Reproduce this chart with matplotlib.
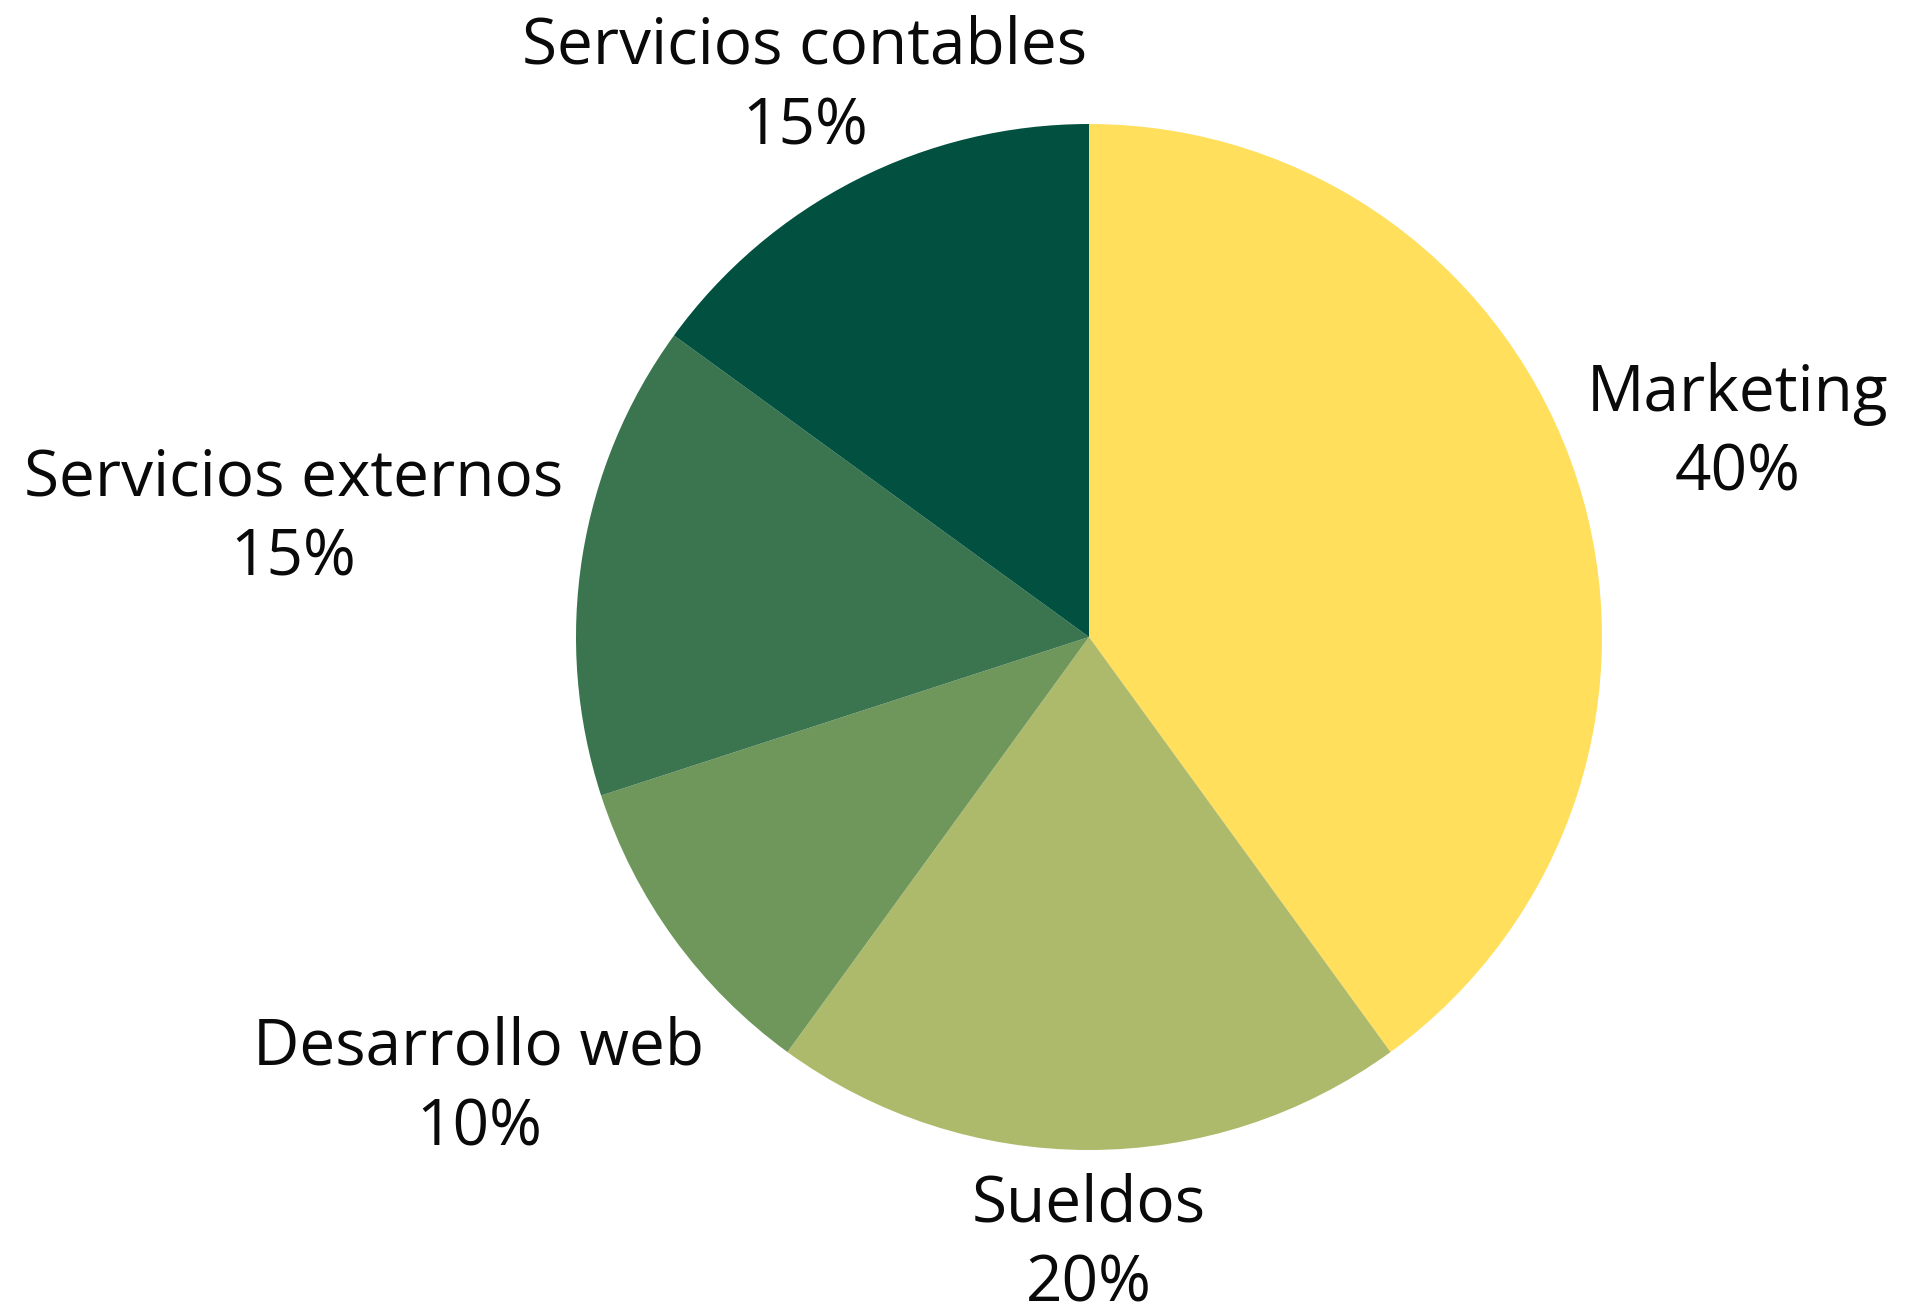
import numpy as np
import matplotlib.pyplot as plt

# expense shares
categories = ['Marketing', 'Sueldos', 'Desarrollo web', 'Servicios externos', 'Servicios contables']
shares = [40, 20, 10, 15, 15]
colors = ['#FFDF5B', '#ADBA6B', '#6F975C', '#3A754F', '#02503F']

# how far out each label sits (in pie radii), wider labels sit further out
label_dist = [1.33, 1.17, 1.47, 1.57, 1.22]

plt.rcParams['font.family'] = ['Open Sans', 'DejaVu Sans']

fig = plt.figure(figsize=(19.28, 13.13), dpi=100)
r_px = 513
cx, cy = 1089 / 1928, (1313 - 637) / 1313
ax = fig.add_axes([cx - r_px / 1928, cy - r_px / 1313, 2 * r_px / 1928, 2 * r_px / 1313])

wedges, _ = ax.pie(shares, colors=colors, startangle=90, counterclock=False,
                   wedgeprops=dict(linewidth=0))
ax.set_xlim(-1, 1)
ax.set_ylim(-1, 1)
ax.set_aspect('equal')
ax.axis('off')

for w, name, val, d in zip(wedges, categories, shares, label_dist):
    ang = np.deg2rad((w.theta1 + w.theta2) / 2)
    ax.text(d * np.cos(ang), d * np.sin(ang) - 0.015, f'{name}\n{val}%',
            ha='center', va='center', fontsize=46, color='#0a0a0a',
            linespacing=1.33, clip_on=False)

fig.savefig('out.png', dpi=100, facecolor='white')
